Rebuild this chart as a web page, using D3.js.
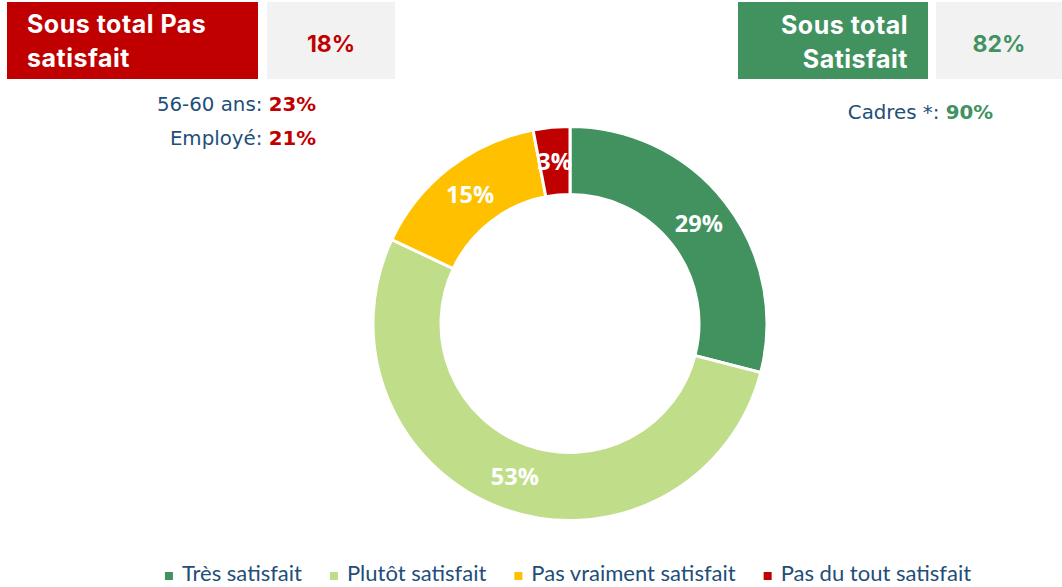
<!DOCTYPE html>
<html><head><meta charset="utf-8">
<script src="https://cdn.jsdelivr.net/npm/d3@7"></script>
<style>body{margin:0;background:#fff}</style>
</head><body><svg id="c" width="1062" height="587"></svg>
<script>
const categories = ["Très satisfait","Plutôt satisfait","Pas vraiment satisfait","Pas du tout satisfait"];
const values = [29,53,15,3];
const colors = ["#41925F","#C0DD8A","#FFC000","#C00000"];
const subtotalLabels = [["Sous total Pas","satisfait"],["Sous total","Satisfait"]];
const subtotalValues = ["18%","82%"];
const notesLeft = [["56-60 ans: ","23%"],["Employé: ","21%"]];
const notesRight = [["Cadres *: ","90%"]];

const svg = d3.select("#c");
const cx = 570, cy = 323.5, rOuter = 197, rInner = 129;
const noteBlue = "#1F4E79";

// Donut
const pie = d3.pie().sort(null).value(d => d.v).startAngle(0).endAngle(2*Math.PI);
const data = pie(categories.map((c,i) => ({c, v: values[i], col: colors[i]})));
const arc = d3.arc().innerRadius(rInner).outerRadius(rOuter);
const labelArc = d3.arc().innerRadius((rInner+rOuter)/2).outerRadius((rInner+rOuter)/2);
const g = svg.append("g").attr("transform", `translate(${cx},${cy})`);
g.selectAll("path.s").data(data).join("path").attr("class","s")
  .attr("d", arc).attr("fill", d => d.data.col)
  .attr("stroke", "#fff").attr("stroke-width", 3).attr("stroke-linejoin","miter");
g.selectAll("text.l").data(data).join("text").attr("class","l")
  .attr("transform", d => `translate(${labelArc.centroid(d)})`)
  .attr("text-anchor","middle").attr("dy","0.36em")
  .attr("font-family","'Open Sans', sans-serif").attr("font-weight",700)
  .attr("font-size",23.5).attr("fill","#fff")
  .text(d => d.data.v + "%");

// Subtotal boxes
const boxes = [
  {x:7, w:251, fill:"#C00000", vx:267, vw:128, vcol:"#C00000", anchor:"start", tx:27, base:[33,67]},
  {x:738, w:190, fill:"#41925F", vx:936, vw:126, vcol:"#41925F", anchor:"end", tx:908, base:[34,68]}
];
boxes.forEach((b,i) => {
  svg.append("rect").attr("x",b.x).attr("y",2).attr("width",b.w).attr("height",77).attr("fill",b.fill);
  svg.append("rect").attr("x",b.vx).attr("y",2).attr("width",b.vw).attr("height",77).attr("fill","#F2F2F2");
  subtotalLabels[i].forEach((t,j) => {
    svg.append("text").attr("x",b.tx).attr("y",b.base[j]).attr("text-anchor",b.anchor)
      .attr("font-family","Inter, sans-serif").attr("font-weight",700).attr("font-size",25)
      .attr("letter-spacing","0.5px")
      .attr("fill","#fff").text(t);
  });
  svg.append("text").attr("x",b.vx + b.vw/2).attr("y",52).attr("text-anchor","middle")
    .attr("font-family","Inter, sans-serif").attr("font-weight",700).attr("font-size",23)
    .attr("fill",b.vcol).text(subtotalValues[i]);
});

// Notes
function note(parts, x, y, anchor, col){
  const t = svg.append("text").attr("x",x).attr("y",y).attr("text-anchor",anchor)
    .attr("font-family","'DejaVu Sans', Verdana, sans-serif").attr("font-size",19.8);
  t.append("tspan").attr("fill",noteBlue).text(parts[0]);
  t.append("tspan").attr("fill",col).attr("font-weight",700).text(parts[1]);
}
notesLeft.forEach((p,i) => note(p, 316, 111 + i*34, "end", "#C00000"));
notesRight.forEach((p,i) => note(p, 993, 119 + i*34, "end", "#41925F"));

// Legend
const leg = svg.append("g");
const items = leg.selectAll("g").data(categories).join("g");
items.append("rect").attr("width",8).attr("height",8).attr("y",-9).attr("fill",(d,i)=>colors[i]);
items.append("text").attr("x",17).attr("y",0)
  .attr("font-family","Lato, sans-serif").attr("font-size",22).attr("fill",noteBlue)
  .text(d => d);
let xpos = 0; const gap = 28;
items.each(function(){
  const w = 17 + d3.select(this).select("text").node().getComputedTextLength();
  d3.select(this).attr("transform", `translate(${xpos},0)`);
  xpos += w + gap;
});
const total = xpos - gap;
leg.attr("transform", `translate(${568 - total/2},581)`);
</script></body></html>
